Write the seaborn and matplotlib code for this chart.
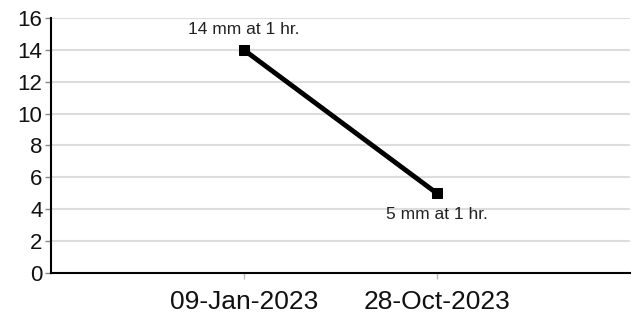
import pandas as pd
import seaborn as sns
import matplotlib.pyplot as plt

dates = ["09-Jan-2023", "28-Oct-2023"]
esr_mm = [14, 5]
labels = ["14 mm at 1 hr.", "5 mm at 1 hr."]

df = pd.DataFrame({"date": dates, "esr": esr_mm})

sns.set_style("white")
plt.rcParams['font.family'] = ['Liberation Sans', 'DejaVu Sans']

fig, ax = plt.subplots(figsize=(6.36, 3.21), dpi=100)
fig.subplots_adjust(left=0.08, right=0.99, bottom=0.15, top=0.944)

sns.lineplot(data=df, x="date", y="esr", color="black", linewidth=3.5,
             marker="s", markersize=7, markeredgecolor="black", ax=ax)

# data labels: first above, second below
offsets = [15, -15]
for i, (v, lab) in enumerate(zip(esr_mm, labels)):
    ax.annotate(lab, (i, v), xytext=(0, offsets[i]), textcoords="offset points",
                ha="center", va="center", fontsize=12.5, color="#222222")

ax.set_xlim(-1, 2)
ax.set_ylim(0, 16)
ax.set_yticks(range(0, 17, 2))
ax.yaxis.grid(True, color="#dddddd", linewidth=1.5)
ax.set_axisbelow(True)
ax.set_xlabel("")
ax.set_ylabel("")

for s in ["top", "right"]:
    ax.spines[s].set_visible(False)
for s in ["left", "bottom"]:
    ax.spines[s].set_color("black")
    ax.spines[s].set_linewidth(1.5)

ax.tick_params(axis="y", left=True, length=4, width=1, color="#888888",
               labelsize=16, pad=2, labelcolor="#111111")
ax.tick_params(axis="x", bottom=True, length=4, width=1, color="#bbbbbb",
               labelsize=19, pad=8, labelcolor="#111111")

fig.savefig("out.png", dpi=100)
